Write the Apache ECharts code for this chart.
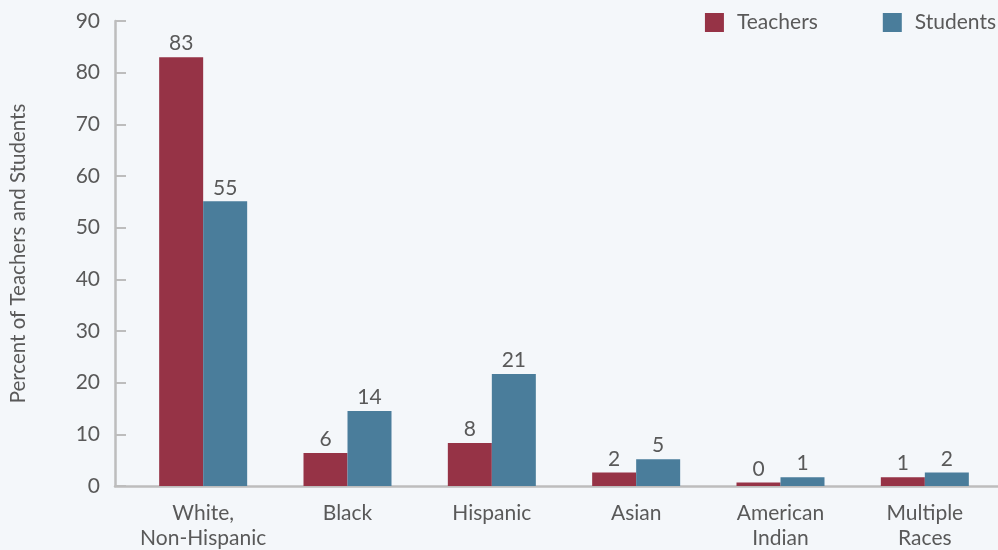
<!DOCTYPE html>
<html>
<head>
<meta charset="utf-8">
<style>
  html, body { margin: 0; padding: 0; background: #f4f7fa; }
  #chart { width: 998px; height: 550px; }
</style>
<script src="https://cdn.jsdelivr.net/npm/echarts@6/dist/echarts.min.js"></script>
</head>
<body>
<div id="chart"></div>
<script>
// Race/ethnicity groups shown on the category axis
const categories = ['White,\nNon-Hispanic', 'Black', 'Hispanic', 'Asian', 'American\nIndian', 'Multiple\nRaces'];
// Percent of public school teachers by group
const teachers = [83.0, 6.4, 8.3, 2.6, 0.7, 1.7];
// Percent of public school students by group
const students = [55.1, 14.5, 21.7, 5.2, 1.7, 2.6];
// Value axis ticks
const yTicks = [0, 10, 20, 30, 40, 50, 60, 70, 80, 90];

const textColor = '#595959';
const axisColor = '#bdbdbd';
const fontFamily = 'Lato, "Noto Sans", sans-serif';

const chart = echarts.init(document.getElementById('chart'));

const barLabel = {
  show: true,
  position: 'top',
  distance: 3,
  color: textColor,
  fontSize: 21,
  fontFamily: fontFamily,
  // whole-percent labels, truncated
  formatter: p => String(Math.floor(p.value))
};

chart.setOption({
  backgroundColor: '#f4f7fa',
  textStyle: { fontFamily: fontFamily },
  legend: {
    right: 2,
    top: 12,
    padding: 0,
    itemWidth: 19,
    itemHeight: 19,
    itemGap: 65,
    icon: 'rect',
    textStyle: { color: textColor, fontSize: 21, fontFamily: fontFamily, padding: [0, 0, 0, 8] },
    data: ['Teachers', 'Students']
  },
  grid: [
    { left: 131, right: 1, top: 21, bottom: 64, outerBoundsMode: 'none' },
    // baseline grid spanning the full plot width, left edge at the value axis
    { left: 115, right: 0, top: 21, bottom: 64, outerBoundsMode: 'none' }
  ],
  xAxis: [
    {
      type: 'category',
      gridIndex: 0,
      data: categories,
      axisLine: { show: false },
      axisTick: { show: false },
      axisLabel: {
        interval: 0,
        color: textColor,
        fontSize: 21,
        fontFamily: fontFamily,
        lineHeight: 25,
        margin: 15
      }
    },
    {
      type: 'value',
      gridIndex: 1,
      min: 0,
      max: 1,
      axisLine: { show: true, lineStyle: { color: axisColor, width: 2.5 } },
      axisTick: { show: false },
      axisLabel: { show: false },
      splitLine: { show: false }
    }
  ],
  yAxis: [
    {
      type: 'value',
      gridIndex: 0,
      min: yTicks[0],
      max: yTicks[yTicks.length - 1],
      interval: 10,
      offset: 16,
      name: 'Percent of Teachers and Students',
      nameLocation: 'middle',
      nameGap: 86,
      nameTextStyle: { color: textColor, fontSize: 20.5, fontFamily: fontFamily },
      axisLine: { show: true, lineStyle: { color: axisColor, width: 2.5 } },
      axisTick: { show: true, inside: true, length: 11, lineStyle: { color: axisColor, width: 2 } },
      axisLabel: { color: textColor, fontSize: 21, fontFamily: fontFamily, margin: 15 },
      splitLine: { show: false }
    },
    {
      type: 'value',
      gridIndex: 1,
      show: false,
      min: 0,
      max: 1
    }
  ],
  series: [
    {
      name: 'Teachers',
      type: 'bar',
      xAxisIndex: 0,
      yAxisIndex: 0,
      data: teachers,
      barWidth: 44,
      barGap: '0%',
      itemStyle: { color: '#963346' },
      label: barLabel
    },
    {
      name: 'Students',
      type: 'bar',
      xAxisIndex: 0,
      yAxisIndex: 0,
      data: students,
      barWidth: 44,
      barGap: '0%',
      itemStyle: { color: '#4a7d9b' },
      label: barLabel
    }
  ]
});
</script>
</body>
</html>
